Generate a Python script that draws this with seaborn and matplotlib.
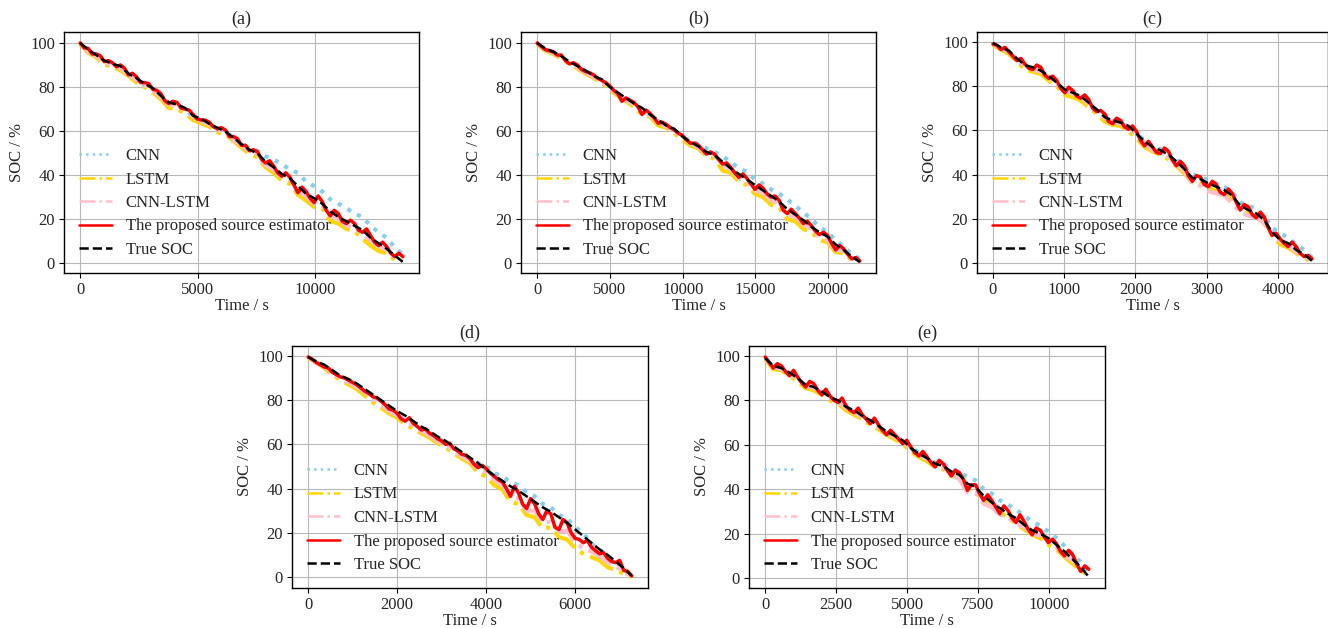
import numpy as np
import matplotlib
matplotlib.use('Agg')
import matplotlib.pyplot as plt
import seaborn as sns

# 패널별 데이터
panel_titles = ['(a)', '(b)', '(c)', '(d)', '(e)']
t_end = [13740, 22170, 4480, 7275, 11410]
x_ticks = [[0, 5000, 10000], [0, 5000, 10000, 15000, 20000], [0, 1000, 2000, 3000, 4000],
           [0, 2000, 4000, 6000], [0, 2500, 5000, 7500, 10000]]

true_a = [100, 97, 94.5, 92, 90.5, 89.5, 86, 84, 81.5, 79.5, 76, 73, 72, 70.5, 67, 65.5, 63.3, 61.5, 59.8, 57, 54,
          51.5, 49.8, 46, 43.5, 40.5, 38.5, 35, 31.5, 29.5, 27, 23.5, 21, 19, 17, 15, 11.5, 9, 6.5, 3.5, 0.5]
prop_a = [100, 97.8, 97.5, 95, 95, 94.2, 91.5, 92, 91, 89.2, 90, 88.5, 85.5, 86.2, 84.5, 82, 82, 81.5, 79, 78.5,
          77, 73.8, 72.5, 73.5, 73, 70.5, 70, 69.5, 67.5, 65.5, 65, 65, 64, 62, 61, 61.5, 60.5, 57.5, 57.5, 56.5,
          53.5, 53.5, 51, 51.5, 50.5, 47, 45.5, 46.5, 44, 41, 39.5, 41, 39, 35.5, 32, 34.5, 32.5, 29.5, 27.5, 30.5,
          28, 24, 21.5, 24, 22.5, 19, 18, 19.5, 18, 15, 14, 15.5, 12.5, 9.5, 8, 9.5, 7.5, 4.5, 3, 4.5, 3]
cnn_a = [100, 96.5, 94, 91.5, 89.5, 89, 85, 84.5, 80.5, 79, 75, 72.5, 71.5, 70, 66.5, 65, 63, 61, 59.5, 57, 54.5,
         52, 51, 48.5, 47, 45, 42.5, 41, 37, 35, 32.5, 29, 27, 25, 22.5, 21, 17, 14, 11.5, 7, 4]
lstm_a = [99.5, 95.5, 93.5, 90, 89.5, 87.5, 85, 82, 80, 77.5, 74.5, 70.5, 70, 68, 65, 63.5, 62, 59.5, 58.5, 55.5, 52.5,
          49.5, 48, 43.5, 41, 37.5, 36, 31, 28.5, 25.5, 25, 19, 18, 15.5, 14.5, 11, 8, 5.5, 4.5, 1.5, 1.5]
cl_a = [100, 96, 94, 91, 90, 88.5, 85.5, 83, 81, 78.5, 75.5, 72, 71.5, 69.5, 66.5, 64.5, 63, 60.5, 59.5, 56, 53.5,
        50.5, 49.5, 44.5, 42.5, 39, 38, 32.5, 30.5, 27, 26.5, 21.5, 20, 17, 16, 13, 10.5, 7.5, 6, 2.5, 2]

true_b = [100, 97.5, 96, 94, 91.5, 89.5, 87.5, 85, 83.5, 80, 77.5, 75, 72.5, 70.5, 67.5, 65, 62.5, 61, 57.5, 55, 53,
          50.5, 49, 46, 43, 40.5, 38, 35.5, 33, 30.5, 28, 24.5, 22, 19.5, 16.5, 14, 12, 8.5, 6, 3, 0.5]
prop_b = [100, 98.5, 97, 96.5, 96, 94.5, 94.5, 92, 90.5, 91, 90, 88, 87, 86.5, 85.5, 84, 83, 82, 80.5, 78.5,
          77, 73.5, 75, 74, 73, 71, 67.5, 69.5, 68, 66, 63.5, 64, 63, 61.5, 60.5, 59, 58, 56, 54.5, 54.5,
          53.5, 51.5, 49.5, 50.5, 49.5, 47, 45, 45.5, 43.5, 41, 39, 40.5, 38.5, 36, 33.5, 35.5, 34, 31.5, 30, 30.5,
          28.5, 24, 22.5, 24.5, 22.5, 20.5, 18, 19, 17, 14.5, 13, 14, 12.5, 9, 6, 8, 6.5, 4, 2, 2.5, 1]
cnn_b = [100, 97, 95, 93, 91, 88.5, 86.5, 84, 82.5, 78.5, 77, 74, 72, 70, 67, 64.5, 62.5, 60.5, 57.5, 55.5, 54,
         52, 50.5, 48.5, 46, 43, 41.5, 38, 36, 33.5, 31.5, 29, 26, 23, 20, 16.5, 14, 10.5, 7.5, 4, 2]
lstm_b = [99.5, 96.5, 95, 93, 90.5, 88.5, 86, 84, 82, 78.5, 76, 73.5, 71, 67.5, 66.5, 62.5, 61.5, 59, 56, 53.5, 52,
          48.5, 47.5, 42, 41, 37, 35.5, 31.5, 30, 26.5, 25.5, 20, 19, 15.5, 14, 10.5, 9.5, 5, 4.5, 1.5, 1]
cl_b = [100, 97, 95.5, 93.5, 91, 89, 86.5, 84.5, 82.5, 79.5, 76.5, 74, 72, 69, 67, 64, 62, 60, 57, 54.5, 52.5,
        49.5, 48.5, 44.5, 42.5, 38.5, 37, 33, 32, 28.5, 27, 22, 21, 17.5, 15.5, 11.5, 10.5, 6, 5.5, 2, 1]

true_c = [99.5, 97.5, 96, 92.5, 89.5, 88.5, 87, 84.5, 81.5, 78.5, 77, 75.5, 72.5, 69.5, 66, 64.5, 63.5, 62, 58.5, 55,
          52.5, 51, 49, 46, 42.5, 38.5, 38, 36, 34.5, 33, 30.5, 26, 24, 22.5, 19.5, 14, 10.5, 9, 6, 4, 1]
prop_c = [99, 98.5, 96.5, 97.5, 95.5, 93.5, 91.5, 92.5, 90, 88, 87.5, 89.5, 88.5, 85, 83.5, 84.5, 82.5, 79, 77, 79.5,
          78, 75.5, 74.5, 76, 74, 70, 68.5, 69, 67.5, 64, 63, 65.5, 64.5, 61.5, 60.5, 62, 59.5, 55.5, 53, 55,
          52.5, 50, 49.5, 52, 50.5, 46.5, 44, 46, 44, 39.5, 37, 39.5, 39, 35.5, 34.5, 37, 35.5, 32, 31, 33.5,
          31.5, 27.5, 24, 26.5, 25.5, 22, 20.5, 23, 21, 16, 12.5, 13.5, 11, 9, 7.5, 9.5, 7.5, 4.5, 3, 3.5, 2]
cnn_c = [99, 97, 95, 92, 88.5, 88, 86, 84, 81, 77.5, 76.5, 75, 72, 69, 66, 64.5, 63, 62, 58.5, 55.5,
         53, 51.5, 49.5, 47, 43.5, 40, 39, 37.5, 36, 34.5, 32, 27.5, 26, 24.5, 21.5, 16, 13.5, 11.5, 8.5, 6, 2.5]
lstm_c = [98.5, 96.5, 94.5, 91, 87.5, 86.5, 85.5, 82.5, 80, 76, 75, 73.5, 70.5, 67.5, 64, 62.5, 62, 59.5, 56.5, 52.5,
          50.5, 49, 47, 44, 40.5, 36.5, 36, 34, 32.5, 31, 28.5, 24, 22.5, 21, 18, 12.5, 8.5, 7, 4.5, 2.5, 0.5]
cl_c = [99, 97, 95.5, 92, 89, 87.5, 86.5, 84, 81, 78, 76.5, 75, 72, 69, 65.5, 64, 63, 61.5, 58, 54.5,
        51, 50, 48, 45, 41.5, 36, 35, 32.5, 31.5, 30.5, 27, 23, 21.5, 20.5, 18, 13, 10, 8, 5, 3, 1]

true_d = [99.5, 97.5, 96, 93.5, 91, 89.5, 87.5, 85, 82.5, 80, 77.5, 75, 73, 70.5, 68, 66, 63.5, 61.5, 59, 56.5, 54,
          51.5, 48.5, 46, 43.5, 41, 39, 36.5, 34, 31.5, 29.5, 27, 24.5, 21.5, 18.5, 15.5, 12.5, 10, 7, 4, 0.5]
prop_d = [99.5, 98.5, 97, 96, 95, 94.5, 92.5, 91.5, 90.5, 90, 89, 88, 87, 85.5, 84, 83, 81.5, 81, 79.5, 78,
          76, 75.5, 74, 71.5, 70.5, 72, 69.5, 68, 66.5, 67, 65, 64, 62.5, 61.5, 60, 60.5, 58, 57, 55.5, 55,
          53.5, 51, 49.5, 50.5, 49, 47, 45.5, 44, 43, 40, 36.5, 41, 38, 33, 31, 35.5, 33, 28.5, 26, 30,
          28.5, 22.5, 21.5, 26, 24.5, 20, 17.5, 17, 15.5, 16.5, 13.5, 12, 10.5, 11, 8.5, 7, 6.5, 7.5, 3, 2.5, 0.5]
cnn_d = [99.5, 97, 95, 92, 89.5, 87.5, 86, 83, 80, 77.5, 75.5, 73, 71, 69, 67, 65, 63, 60.5, 58.5, 56, 53.5,
         51.5, 50, 47, 45.5, 43, 41.5, 38.5, 36.5, 33, 31.5, 28, 26.5, 22.5, 20, 15, 12.5, 9.5, 6.5, 4, 0.5]
lstm_d = [99, 97, 94.5, 91.5, 89, 87, 85, 82, 79, 76.5, 74, 72, 69, 67, 65, 63, 60.5, 58.5, 56, 53.5, 51.5,
          47, 45.5, 41.5, 39.5, 34, 33, 28, 27, 22, 22.5, 18, 17, 13, 10.5, 9, 7.5, 4.5, 3, 1.5, 0]
cl_d = [99.5, 97, 95, 92.5, 90, 88, 86, 83.5, 80.5, 78, 75, 73, 70, 68.5, 66, 64, 61.5, 59.5, 57, 54.5, 52.5,
        48.5, 47.5, 44, 41.5, 36, 35.5, 30, 30, 24.5, 25, 20.5, 21, 15.5, 13, 11.5, 9.5, 6.5, 5, 2, 0.5]

true_e = [99, 95.5, 94.5, 92.5, 90, 87, 86, 84, 81.5, 80, 77, 75.5, 73, 71, 68.5, 66, 64, 62, 58.5, 56, 54,
          51.5, 50.5, 48, 46.5, 42.5, 41, 37, 34, 31.5, 29, 27, 24, 21.5, 20, 18, 15, 12, 8.5, 5, 0.5]
prop_e = [99.5, 97, 94.5, 96.5, 95.5, 93, 91, 93.5, 90.5, 88, 86, 88.5, 87.5, 84.5, 82.5, 85, 82, 80, 79, 81,
          77.5, 75.5, 74.5, 76.5, 73.5, 71.5, 69.5, 72, 69, 66.5, 64.5, 66.5, 64.5, 62.5, 60.5, 62, 59, 56.5, 55, 57,
          54.5, 52, 50, 53, 51.5, 48.5, 46, 48.5, 47.5, 44.5, 39.5, 42, 42, 38, 35, 37.5, 35, 32, 29, 32.5,
          30.5, 27, 25, 28.5, 25.5, 22, 19.5, 22.5, 21.5, 18.5, 16, 17.5, 15.5, 12, 10, 12.5, 10.5, 6.5, 3, 5.5, 4]
cnn_e = [99, 95.5, 94, 92, 89.5, 86.5, 85.5, 83.5, 81, 79.5, 76.5, 75, 72.5, 70.5, 68, 66, 64, 62, 59, 56.5,
         54.5, 52, 51.5, 49, 48, 45.5, 44, 40, 38, 35, 33, 31, 28, 25.5, 23.5, 21, 18, 14.5, 11, 7, 3]
lstm_e = [98.5, 94, 93.5, 91, 88.5, 85.5, 84.5, 82.5, 80, 78.5, 75.5, 73.5, 71.5, 69, 67, 64.5, 62.5, 60.5, 57, 54.5,
          52.5, 50, 49, 46, 45, 40.5, 39, 35, 32, 29.5, 27.5, 24.5, 22, 19.5, 18, 15, 13, 9.5, 6.5, 3.5, 1]
cl_e = [99, 95, 94, 92, 89.5, 86.5, 85.5, 83.5, 81, 79.5, 76.5, 74.5, 72.5, 70, 68, 65.5, 63.5, 61.5, 58, 55.5,
        53.5, 51, 49.5, 46.5, 44.5, 38.5, 38.5, 33.5, 32, 28.5, 27.5, 24.5, 23, 20, 19, 16, 14, 10, 8, 3.5, 1.5]

panels = [
    (true_a, prop_a, cnn_a, lstm_a, cl_a),
    (true_b, prop_b, cnn_b, lstm_b, cl_b),
    (true_c, prop_c, cnn_c, lstm_c, cl_c),
    (true_d, prop_d, cnn_d, lstm_d, cl_d),
    (true_e, prop_e, cnn_e, lstm_e, cl_e),
]

sns.set_style('ticks', {'axes.grid': True, 'grid.color': '#b8b8b8', 'axes.edgecolor': 'black'})
plt.rcParams['font.family'] = ['Liberation Serif', 'DejaVu Serif']
plt.rcParams['font.size'] = 12
plt.rcParams['xtick.direction'] = 'out'
plt.rcParams['ytick.direction'] = 'out'

fig = plt.figure(figsize=(13.28, 6.28), dpi=100)
W, H = 1328, 628
# 축 위치 (픽셀: left, top, width, height)
boxes = [(64, 32, 355, 241), (521, 32, 355, 241), (977, 32, 351, 241),
         (292, 346, 356, 242), (749, 346, 356, 242)]

for k, (box, data) in enumerate(zip(boxes, panels)):
    l, t, w, h = box
    ax = fig.add_axes([l / W, 1 - (t + h) / H, w / W, h / H])
    true, prop, cnn, lstm, cl = data
    time = np.linspace(0, t_end[k], len(true))
    time_p = np.linspace(0, t_end[k], len(prop))

    sns.lineplot(x=time, y=cnn, ax=ax, color='skyblue', linestyle=':', lw=3, label='CNN')
    sns.lineplot(x=time, y=lstm, ax=ax, color='gold', linestyle='-.', lw=3, label='LSTM')
    sns.lineplot(x=time, y=cl, ax=ax, color='pink', linestyle='-.', lw=3, label='CNN-LSTM')
    sns.lineplot(x=time_p, y=prop, ax=ax, color='red', linestyle='-', lw=2.5,
                 label='The proposed source estimator')
    sns.lineplot(x=time, y=true, ax=ax, color='black', linestyle='--', lw=1.8, label='True SOC')

    ax.set_title(panel_titles[k], fontsize=13)
    ax.set_xlabel('Time / s', fontsize=12, labelpad=0)
    ax.set_ylabel('SOC / %', fontsize=12)
    ax.tick_params(labelsize=12, length=3.5, color='black', pad=3)
    ax.set_xticks(x_ticks[k])
    ax.set_yticks([0, 20, 40, 60, 80, 100])
    leg = ax.legend(loc='lower left', frameon=False, fontsize=12, labelspacing=0.45)
    for hl in leg.legend_handles:
        hl.set_linewidth(1.8)
    for s in ax.spines.values():
        s.set_color('black')
        s.set_linewidth(1.0)

plt.savefig('out.png', dpi=100)
